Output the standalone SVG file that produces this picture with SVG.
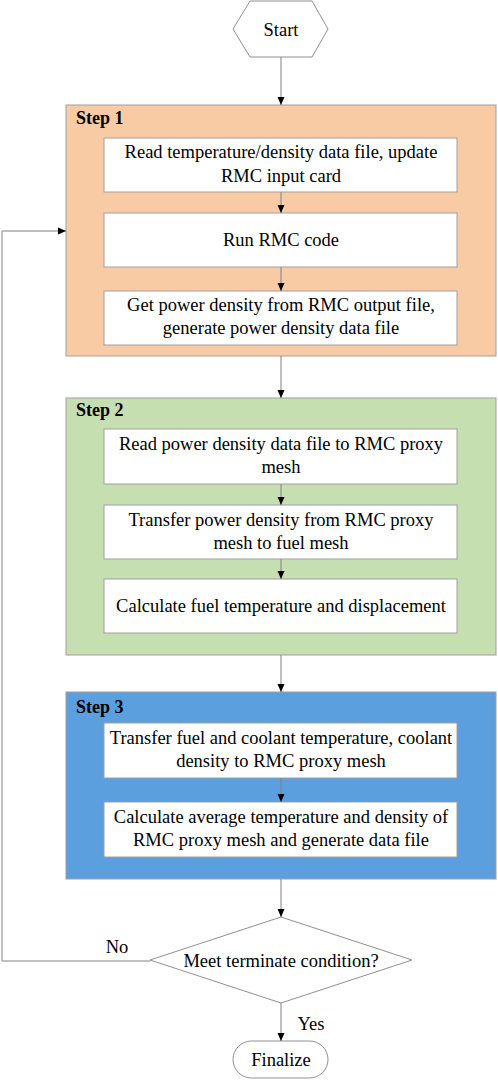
<svg xmlns="http://www.w3.org/2000/svg" width="498" height="1080" viewBox="0 0 498 1080">
<style>
text{font-family:'Liberation Serif','Times New Roman',serif;font-size:18.5px;fill:#000;text-anchor:middle}
.lbl{font-weight:bold;text-anchor:start;font-size:18px}
.step{stroke:#a0a0a0;stroke-width:1}
.box{fill:#fff;stroke:#a0a0a0;stroke-width:1}
.shape{fill:#fff;stroke:#909090;stroke-width:1}
.c{fill:none;stroke:#808080;stroke-width:1;marker-end:url(#ah)}
</style>
<defs>
<marker id="ah" viewBox="0 0 8 8" refX="8" refY="4" markerWidth="8" markerHeight="8" markerUnits="userSpaceOnUse" orient="auto">
<path d="M0,0.5 L8,4 L0,7.5 Z" fill="#000"/>
</marker>
</defs>
<rect width="498" height="1080" fill="#fff"/>
<g id="start">
<polygon class="shape" points="233,29 250,1 312,1 328,29 312,57 250,57"/>
<text x="281" y="35.5">Start</text>
</g>
<g id="step1">
<rect class="step" x="66" y="105" width="430" height="251" fill="#F9CBA5"/>
<text class="lbl" x="76" y="124">Step 1</text>
</g>
<g id="s1b1">
<rect class="box" x="104" y="138" width="353" height="54"/>
<text x="281" y="158">Read temperature/density data file, update</text>
<text x="281" y="182">RMC input card</text>
</g>
<g id="s1b2">
<rect class="box" x="104" y="213" width="353" height="54"/>
<text x="281" y="246">Run RMC code</text>
</g>
<g id="s1b3">
<rect class="box" x="104" y="291" width="353" height="54"/>
<text x="281" y="311">Get power density from RMC output file,</text>
<text x="281" y="334">generate power density data file</text>
</g>
<g id="step2">
<rect class="step" x="66" y="398" width="430" height="257" fill="#C6DFB0"/>
<text class="lbl" x="76" y="416">Step 2</text>
</g>
<g id="s2b1">
<rect class="box" x="104" y="429" width="353" height="55"/>
<text x="281" y="450">Read power density data file to RMC proxy</text>
<text x="281" y="473">mesh</text>
</g>
<g id="s2b2">
<rect class="box" x="104" y="505" width="353" height="54"/>
<text x="281" y="526">Transfer power density from RMC proxy</text>
<text x="281" y="549">mesh to fuel mesh</text>
</g>
<g id="s2b3">
<rect class="box" x="104" y="579" width="353" height="54"/>
<text x="281" y="612">Calculate fuel temperature and displacement</text>
</g>
<g id="step3">
<rect class="step" x="66" y="692" width="430" height="187" fill="#5B9FDF"/>
<text class="lbl" x="76" y="713">Step 3</text>
</g>
<g id="s3b1">
<rect class="box" x="104" y="723" width="353" height="55"/>
<text x="281" y="744">Transfer fuel and coolant temperature, coolant</text>
<text x="281" y="767">density to RMC proxy mesh</text>
</g>
<g id="s3b2">
<rect class="box" x="104" y="802" width="353" height="55"/>
<text x="281" y="823">Calculate average temperature and density of</text>
<text x="281" y="846">RMC proxy mesh and generate data file</text>
</g>
<g id="decision">
<polygon class="shape" points="150,960 281,917 412,960 281,1003"/>
<text x="281" y="966.5">Meet terminate condition?</text>
</g>
<g id="finalize">
<rect class="shape" x="233" y="1041" width="95" height="37" rx="18.5" ry="18.5"/>
<text x="281" y="1066">Finalize</text>
</g>
<g id="connectors">
<line class="c" x1="281" y1="57" x2="281" y2="105"/>
<line class="c" x1="281" y1="192" x2="281" y2="213"/>
<line class="c" x1="281" y1="267" x2="281" y2="291"/>
<line class="c" x1="281" y1="356" x2="281" y2="398"/>
<line class="c" x1="281" y1="484" x2="281" y2="505"/>
<line class="c" x1="281" y1="559" x2="281" y2="579"/>
<line class="c" x1="281" y1="655" x2="281" y2="692"/>
<line class="c" x1="281" y1="778" x2="281" y2="802"/>
<line class="c" x1="281" y1="879" x2="281" y2="917"/>
<line class="c" x1="281" y1="1003" x2="281" y2="1041"/>
<polyline class="c" points="150,961 2,961 2,231 66,231"/>
<text x="117" y="953">No</text>
<text x="311" y="1030">Yes</text>
</g>
</svg>
